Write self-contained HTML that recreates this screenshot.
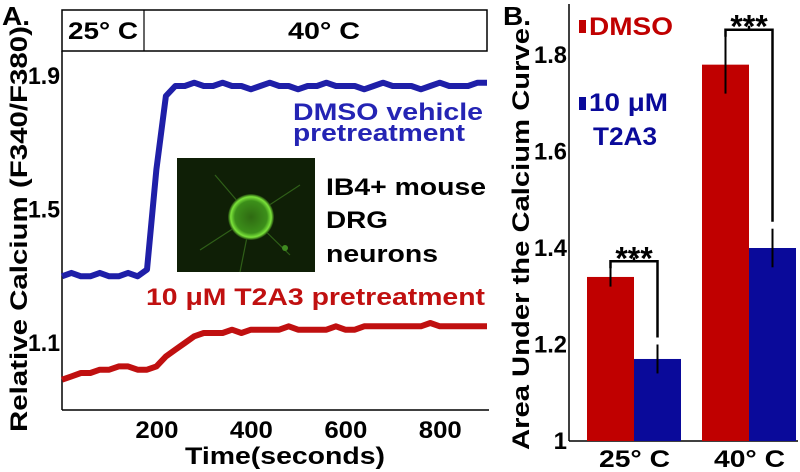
<!DOCTYPE html>
<html><head><meta charset="utf-8">
<style>
html,body{margin:0;padding:0;background:#fff;}
svg{display:block;font-family:"Liberation Sans",sans-serif;font-weight:bold;}
</style></head>
<body>
<svg id="fig" width="800" height="472" viewBox="0 0 800 472">
<defs>
<radialGradient id="cellg" cx="50%" cy="50%" r="50%">
<stop offset="0%" stop-color="#2f6a12"/><stop offset="70%" stop-color="#3c8f1a"/><stop offset="88%" stop-color="#7be33a"/><stop offset="100%" stop-color="#1a3a0a"/>
</radialGradient>
</defs>
<g id="panelA"></g>
<g id="panelB"></g>
</svg>
<script>
// ---------- Panel A data ----------
const timeSec = [0,20,40,60,80,100,120,140,160,180,200,220,240,260,280,300,320,340,360,380,400,420,440,460,480,500,520,540,560,580,600,620,640,660,680,700,720,740,760,780,800,820,840,860,880,900];
const dmsoTrace = [1.30,1.31,1.30,1.30,1.31,1.30,1.30,1.31,1.30,1.32,1.62,1.84,1.87,1.87,1.88,1.87,1.87,1.88,1.87,1.87,1.86,1.87,1.88,1.87,1.87,1.86,1.87,1.87,1.88,1.87,1.87,1.87,1.86,1.87,1.88,1.87,1.87,1.87,1.86,1.87,1.88,1.87,1.87,1.87,1.88,1.88];
const t2a3Trace = [0.99,1.00,1.01,1.01,1.02,1.02,1.03,1.03,1.02,1.02,1.03,1.06,1.08,1.10,1.12,1.13,1.13,1.13,1.14,1.13,1.14,1.14,1.14,1.14,1.15,1.14,1.14,1.14,1.14,1.15,1.14,1.14,1.15,1.15,1.15,1.15,1.15,1.15,1.15,1.16,1.15,1.15,1.15,1.15,1.15,1.15];
const aXTicks = [200,400,600,800];
const aYTicks = [1.1,1.5,1.9];
// ---------- Panel B data ----------
const bCategories = ["25° C","40° C"];
const bDmso = [1.34,1.78];
const bDmsoErr = [0.02,0.06];
const bT2a3 = [1.17,1.40];
const bT2a3Err = [0.03,0.04];
const bYTicks = [1,1.2,1.4,1.6,1.8];

const NS="http://www.w3.org/2000/svg";
function mk(parent,tag,attrs,text){const e=document.createElementNS(NS,tag);for(const k in attrs)e.setAttribute(k,attrs[k]);if(text!==undefined)e.textContent=text;parent.appendChild(e);return e;}
function fit(el,len){el.setAttribute('textLength',len);el.setAttribute('lengthAdjust','spacingAndGlyphs');}

// ---- Panel A ----
const A=document.getElementById('panelA');
const ax0=62, ax1=487, ay0=410;
const xA=t=>ax0+t*(ax1-ax0)/900;
const yA=v=>343-(v-1.1)*333.75;
let e;
e=mk(A,'text',{x:2,y:25,'font-size':26},'A.');fit(e,28);

e=mk(A,'rect',{x:ax0,y:10,width:ax1-ax0,height:41,fill:'#fff',stroke:'#000','stroke-width':1.5});

e=mk(A,'line',{x1:144,y1:10,x2:144,y2:51,stroke:'#000','stroke-width':1.2});

e=mk(A,'text',{x:68,y:39,'font-size':24},'25° C');fit(e,70);

e=mk(A,'text',{x:288,y:39,'font-size':24},'40° C');fit(e,72);

e=mk(A,'line',{x1:ax0,y1:51,x2:ax0,y2:ay0,stroke:'#000','stroke-width':1.5});

e=mk(A,'line',{x1:ax0,y1:ay0,x2:ax1+2,y2:ay0,stroke:'#000','stroke-width':1.5});

aXTicks.forEach(t=>{
  e=mk(A,'text',{x:xA(t)-21,y:438,'font-size':24},String(t));fit(e,43);
  
});
aYTicks.forEach(v=>{
  e=mk(A,'text',{x:28,y:yA(v)+8,'font-size':24},v.toFixed(1));fit(e,32);
  
});
e=mk(A,'text',{x:185,y:464,'font-size':24},'Time(seconds)');fit(e,200);

e=mk(A,'text',{x:0,y:0,'font-size':24,transform:'translate(27,432) rotate(-90)'},'Relative Calcium (F340/F380)');fit(e,406);

function trace(vals,color,name){
  const d=vals.map((v,i)=>(i?'L':'M')+xA(timeSec[i]).toFixed(1)+','+yA(v).toFixed(1)).join(' ');
  const p=mk(A,'path',{d:d,fill:'none',stroke:color,'stroke-width':6,'stroke-linejoin':'round'});
  
  
}
trace(dmsoTrace,'#1f1fa8','dmso-trace');
trace(t2a3Trace,'#c01010','t2a3-trace');
e=mk(A,'text',{x:293,y:120,'font-size':24,fill:'#2424b4'},'DMSO vehicle');fit(e,190);

e=mk(A,'text',{x:293,y:141,'font-size':24,fill:'#2424b4'},'pretreatment');fit(e,172);

e=mk(A,'text',{x:146,y:305,'font-size':24,fill:'#c01010'},'10 μM T2A3 pretreatment');fit(e,339);

// inset
const ins=mk(A,'g',{});

mk(ins,'rect',{x:177,y:158,width:138,height:114,fill:'#0f1f06'});
[[251,217,215,175],[251,217,300,185],[251,217,200,250],[251,217,290,255],[251,217,240,272]].forEach(l=>mk(ins,'line',{x1:l[0],y1:l[1],x2:l[2],y2:l[3],stroke:'#2f5f18','stroke-width':1.2}));
mk(ins,'circle',{cx:251,cy:217,r:23,fill:'url(#cellg)'});
mk(ins,'circle',{cx:285,cy:248,r:3,fill:'#3f8a20'});
[['IB4+ mouse',195,160],['DRG',228,62],['neurons',262,112]].forEach(t=>{
  e=mk(A,'text',{x:326,y:t[1],'font-size':24},t[0]);fit(e,t[2]);
  
});

// ---- Panel B ----
const B=document.getElementById('panelB');
const bx0=569, by0=441;
const yB=v=>by0-(v-1)*(by0-55)/0.8;
const groupLeft=[587,702], bw=47;
e=mk(B,'text',{x:503,y:25,'font-size':26},'B.');fit(e,28);

e=mk(B,'line',{x1:bx0,y1:4,x2:bx0,y2:by0,stroke:'#000','stroke-width':1.5});

e=mk(B,'line',{x1:bx0,y1:by0,x2:798,y2:by0,stroke:'#000','stroke-width':1.5});

bYTicks.forEach(v=>{
  e=mk(B,'text',{x:567,y:yB(v)+8,'font-size':24,'text-anchor':'end'},v===1?'1':v.toFixed(1));
  if(v!==1) fit(e,33);
  
});
e=mk(B,'text',{x:0,y:0,'font-size':24,transform:'translate(529,450) rotate(-90)'},'Area Under the Calcium Curve');fit(e,422);

bCategories.forEach((c,i)=>{
  const gx=groupLeft[i];
  let r=mk(B,'rect',{x:gx,y:yB(bDmso[i]),width:bw,height:by0-yB(bDmso[i]),fill:'#c00000'});
  
  r=mk(B,'rect',{x:gx+bw,y:yB(bT2a3[i]),width:bw,height:by0-yB(bT2a3[i]),fill:'#0a0a9a'});
  
  const c1=gx+bw/2, c2=gx+bw*1.5;
  r=mk(B,'line',{x1:c1,y1:yB(bDmso[i]+bDmsoErr[i]),x2:c1,y2:yB(bDmso[i]-bDmsoErr[i]),stroke:'#000','stroke-width':2});
  
  r=mk(B,'line',{x1:c2,y1:yB(bT2a3[i]+bT2a3Err[i]),x2:c2,y2:yB(bT2a3[i]-bT2a3Err[i]),stroke:'#000','stroke-width':2});
  
  const top=yB(bDmso[i]+bDmsoErr[i])-6, bot=yB(bT2a3[i]+bT2a3Err[i])-7;
  r=mk(B,'path',{d:`M${c1},${top+7} L${c1},${top} L${c2},${top} L${c2},${bot} M${gx+bw},${top} L${gx+bw},${top-4}`,fill:'none',stroke:'#000','stroke-width':2.5});
  
  r=mk(B,'text',{x:gx+bw,y:top+8,'font-size':32,'text-anchor':'middle'},'***');
  
  r=mk(B,'text',{x:gx+bw-35,y:467,'font-size':24},c);fit(r,71);
  
});
// legend
e=mk(B,'rect',{x:579,y:20,width:7,height:13,fill:'#c00000'});

e=mk(B,'text',{x:589,y:35,'font-size':25,fill:'#c00000'},'DMSO');fit(e,84);

e=mk(B,'rect',{x:579,y:97,width:7,height:13,fill:'#0a0a9a'});

e=mk(B,'text',{x:589,y:111,'font-size':25,fill:'#0a0a9a'},'10 μM');fit(e,79);

e=mk(B,'text',{x:593,y:145,'font-size':25,fill:'#0a0a9a'},'T2A3');fit(e,64);

</script>
</body></html>
